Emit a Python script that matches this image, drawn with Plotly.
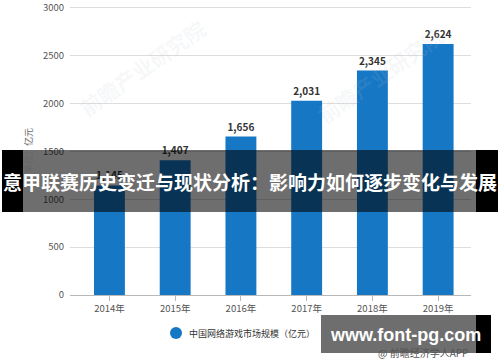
import plotly.graph_objects as go

years = ["2014年", "2015年", "2016年", "2017年", "2018年", "2019年"]
values = [1145, 1407, 1656, 2031, 2345, 2624]
value_labels = ["1,145", "1,407", "1,656", "2,031", "2,345", "2,624"]
series_name = "中国网络游戏市场规模（亿元）"
y_ticks = [0, 500, 1000, 1500, 2000, 2500, 3000]

W, H = 500, 362
ML, MR, MT, MB = 70, 29, 0, 67
PW, PH = W - ML - MR, H - MT - MB

def px(x):
    return (x - ML) / PW

def py(y):
    return (H - MB - y) / PH

FONT = "Noto Sans CJK SC"
BLUE = "#1677c4"

fig = go.Figure()
fig.add_trace(go.Bar(
    x=years, y=values, text=value_labels, textposition="outside",
    textfont=dict(size=10, color="#333333", family=FONT, weight="bold"),
    marker=dict(color=BLUE, line=dict(width=0)),
    showlegend=False, cliponaxis=False, name=series_name,
))

def rect(x0, x1, y0, y1, color):
    return dict(type="rect", xref="paper", yref="paper", x0=px(x0), x1=px(x1),
                y0=py(y1), y1=py(y0), fillcolor=color, line=dict(width=0), layer="above")

shapes = [
    # legend marker
    dict(type="circle", xref="paper", yref="paper", x0=px(170), x1=px(182),
         y0=py(339), y1=py(327), fillcolor=BLUE, line=dict(width=0), layer="above"),
    # central banner
    rect(23, 476, 150, 212, "rgba(0,0,0,0.57)"),
    rect(2, 23, 150, 212, "#000000"),
    rect(476, 498, 150, 212, "#000000"),
    # url band
    rect(321, 476, 315, 353, "rgba(0,0,0,0.57)"),
    rect(476, 491, 315, 353, "#000000"),
]

def ann(text, x, y, size, color, xanchor="center", angle=0, weight="normal", family=FONT):
    return dict(text=text, xref="paper", yref="paper", x=px(x), y=py(y),
                xanchor=xanchor, yanchor="middle", showarrow=False, textangle=angle,
                font=dict(size=size, color=color, family=family, weight=weight))

annotations = [
    ann("前瞻产业研究院", 142, 68, 21, "rgba(190,195,205,0.12)", angle=-35, weight="bold"),
    ann("前瞻产业研究院", 380, 75, 21, "rgba(190,195,205,0.12)", angle=-35, weight="bold"),
    ann("单位：亿元", 29, 151, 9, "#666666", angle=-90),
    ann(series_name, 187, 333, 9, "#333333", xanchor="left"),
    ann("意甲联赛历史变迁与现状分析：影响力如何逐步变化与发展", 250, 181, 19, "#ffffff", weight="bold"),
    ann("www.font-pg.com", 405, 335, 18, "#ffffff", weight="bold", family="Liberation Sans"),
    ann("@ 前瞻经济学人APP", 470, 352, 10, "#555555", xanchor="right"),
]

fig.update_layout(
    width=W, height=H,
    margin=dict(l=ML, r=MR, t=MT, b=MB, autoexpand=False),
    paper_bgcolor="#ffffff", plot_bgcolor="#ffffff",
    font=dict(family=FONT, size=10, color="#555555"),
    bargap=0.53,
    showlegend=False,
    shapes=shapes,
    annotations=annotations,
    xaxis=dict(type="category", range=[-0.6, 5.5], showgrid=False, showline=True,
               linecolor="#b8b8b8", linewidth=1, ticks="outside", ticklen=5, tickcolor="#b8b8b8",
               tickfont=dict(size=9.5, color="#555555")),
    yaxis=dict(range=[0, 3083], tickmode="array", tickvals=y_ticks,
               ticktext=[str(v) for v in y_ticks], showgrid=True, gridcolor="#dddddd",
               zeroline=False, showline=False, tickfont=dict(size=9.5, color="#555555"),
               ticks="", ticklabelstandoff=5),
)

fig.write_html(
    "out.html",
    config={"displayModeBar": False},
    post_script="document.body.style.margin='0';document.body.style.padding='0';"
                "document.documentElement.style.overflow='hidden';document.body.style.overflow='hidden';",
)
